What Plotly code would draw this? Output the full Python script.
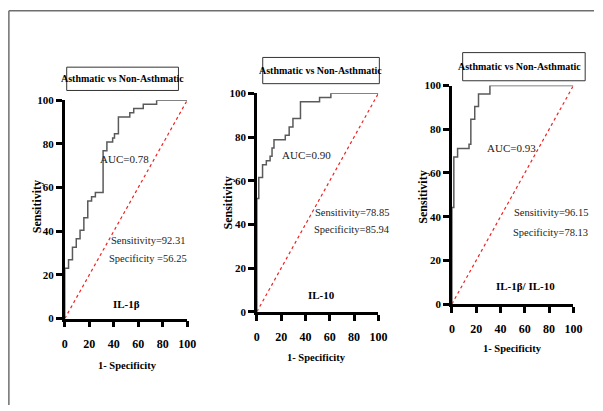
import plotly.graph_objects as go

# ---- data ----
panel_labels = ["IL-1β", "IL-10", "IL-1β/ IL-10"]
auc_texts = ["AUC=0.78", "AUC=0.90", "AUC=0.93"]
sens_texts = ["Sensitivity=92.31", "Sensitivity=78.85", "Sensitivity=96.15"]
spec_texts = ["Specificity =56.25", "Specificity=85.94", "Specificity=78.13"]
title_text = "Asthmatic vs Non-Asthmatic"
tick_vals = [0, 20, 40, 60, 80, 100]
tick_text = ["0", "20", "40", "60", "80", "100"]

il1b_fpr = [0, 0, 3.1, 3.1, 6.3, 6.3, 9.4, 9.4, 12.5, 12.5, 15.6, 15.6, 18.8, 18.8, 21.9, 21.9,
            25.0, 25.0, 31.3, 31.3, 34.4, 34.4, 39.1, 39.1, 40.6, 40.6, 43.8, 43.8, 53.1, 53.1,
            56.3, 56.3, 64.1, 64.1, 75.0, 75.0, 100]
il1b_tpr = [0, 23.1, 23.1, 26.9, 26.9, 32.7, 32.7, 36.5, 36.5, 40.4, 40.4, 46.2, 46.2, 53.8, 53.8, 55.8,
            55.8, 57.7, 57.7, 76.9, 76.9, 80.8, 80.8, 82.7, 82.7, 84.6, 84.6, 92.3, 92.3, 94.2,
            94.2, 96.2, 96.2, 98.1, 98.1, 100, 100]

il10_fpr = [0, 0, 1.6, 1.6, 4.7, 4.7, 7.8, 7.8, 10.9, 10.9, 12.5, 12.5, 14.1, 14.1, 23.4, 23.4,
            26.6, 26.6, 29.7, 29.7, 35.9, 35.9, 51.6, 51.6, 60.9, 60.9, 100]
il10_tpr = [0, 51.9, 51.9, 61.5, 61.5, 67.3, 67.3, 69.2, 69.2, 71.2, 71.2, 75.0, 75.0, 78.8, 78.8, 80.8,
            80.8, 84.6, 84.6, 88.5, 88.5, 96.2, 96.2, 98.1, 98.1, 100, 100]

ratio_fpr = [0, 0, 1.6, 1.6, 4.7, 4.7, 14.1, 14.1, 15.6, 15.6, 18.8, 18.8, 21.9, 21.9, 31.3, 31.3, 100]
ratio_tpr = [0, 44.2, 44.2, 67.3, 67.3, 71.2, 71.2, 73.1, 73.1, 84.6, 84.6, 90.4, 90.4, 96.2, 96.2, 100, 100]

diag = [0, 100]

curves = [(il1b_fpr, il1b_tpr), (il10_fpr, il10_tpr), (ratio_fpr, ratio_tpr)]

# ---- layout geometry (pixels of a 603x411 canvas) ----
W, H = 603, 411
def px(x):
    return x / W
def py(y):
    return 1 - y / H

x_dom = [(63, 188), (259, 383), (458, 582)]
y_dom = [(322, 97), (315, 90), (307, 82)]   # (y of 0, y of 100)
boxes = [(65, 63, 179, 87), (265, 53, 384, 80), (469, 48, 594, 77)]
box_text_xy = [(122, 75), (324, 66.5), (527, 62.5)]
ytitle_xy = [(35, 207), (230, 203), (429, 197)]
xtitle_xy = [(127, 370), (320, 362), (520, 353)]
auc_xy = [(48.4, 73), (41.1, 72), (48.8, 71.6)]
sens_xy = [(67.6, 35.6), (78.6, 45.3), (81.5, 41.8)]
spec_xy = [(67.6, 27.6), (78.6, 37.8), (81.5, 32.9)]
lab_xy = [(50.4, 6.5), (53.2, 7.6), (60.5, 8.4)]

SERIF = "Liberation Serif"

fig = go.Figure()
annotations = []
shapes = []

for i in range(3):
    xa = "x" if i == 0 else f"x{i+1}"
    ya = "y" if i == 0 else f"y{i+1}"
    fx, fy = curves[i]
    fig.add_trace(go.Scatter(x=diag, y=diag, mode="lines", xaxis=xa, yaxis=ya,
                             line=dict(color="#ee2222", width=1.2, dash="dot"),
                             showlegend=False, hoverinfo="skip"))
    fig.add_trace(go.Scatter(x=fx, y=fy, mode="lines", xaxis=xa, yaxis=ya,
                             line=dict(color="#5a5a5a", width=1.5),
                             showlegend=False))
    axis_common = dict(range=[0, 100], showline=True, linecolor="black", linewidth=2.5,
                       ticks="outside", ticklen=6, tickwidth=2.5, tickcolor="black",
                       tickvals=tick_vals, ticktext=tick_text, showgrid=False, zeroline=False,
                       fixedrange=True)
    xkey = "xaxis" if i == 0 else f"xaxis{i+1}"
    ykey = "yaxis" if i == 0 else f"yaxis{i+1}"
    fig.layout[xkey] = dict(axis_common, domain=[px(x_dom[i][0]), px(x_dom[i][1])], anchor=ya,
                            tickfont=dict(family=SERIF, size=12, color="black", weight="bold"),
                            ticklabelstandoff=6)
    fig.layout[ykey] = dict(axis_common, domain=[py(y_dom[i][0]), py(y_dom[i][1])], anchor=xa,
                            tickfont=dict(family=SERIF, size=11, color="black", weight="bold"))

    x0, y0, x1, y1 = boxes[i]
    shapes.append(dict(type="rect", xref="paper", yref="paper", x0=px(x0), x1=px(x1),
                       y0=py(y1), y1=py(y0), line=dict(color="#333333", width=1)))
    bx, by = box_text_xy[i]
    annotations.append(dict(text=title_text, xref="paper", yref="paper", x=px(bx), y=py(by),
                            showarrow=False, xanchor="center", yanchor="middle",
                            font=dict(family=SERIF, size=10, color="black", weight="bold")))
    tx, ty = ytitle_xy[i]
    annotations.append(dict(text="Sensitivity", xref="paper", yref="paper", x=px(tx), y=py(ty),
                            showarrow=False, textangle=-90, xanchor="center", yanchor="middle",
                            font=dict(family=SERIF, size=12, color="black", weight="bold")))
    tx, ty = xtitle_xy[i]
    annotations.append(dict(text="1- Specificity", xref="paper", yref="paper", x=px(tx), y=py(ty),
                            showarrow=False, xanchor="center", yanchor="middle",
                            font=dict(family=SERIF, size=10.5, color="black", weight="bold")))
    ax_, ay_ = auc_xy[i]
    annotations.append(dict(text=auc_texts[i], xref=xa, yref=ya, x=ax_, y=ay_, showarrow=False,
                            xanchor="center", yanchor="middle",
                            font=dict(family=SERIF, size=11, color="#222222")))
    sx, sy = sens_xy[i]
    annotations.append(dict(text=sens_texts[i], xref=xa, yref=ya, x=sx, y=sy, showarrow=False,
                            xanchor="center", yanchor="middle",
                            font=dict(family=SERIF, size=10.5, color="#222222")))
    sx, sy = spec_xy[i]
    annotations.append(dict(text=spec_texts[i], xref=xa, yref=ya, x=sx, y=sy, showarrow=False,
                            xanchor="center", yanchor="middle",
                            font=dict(family=SERIF, size=10.5, color="#222222")))
    lx, ly = lab_xy[i]
    annotations.append(dict(text=panel_labels[i], xref=xa, yref=ya, x=lx, y=ly, showarrow=False,
                            xanchor="center", yanchor="middle",
                            font=dict(family=SERIF, size=11, color="black", weight="bold")))

# outer frame lines (top and left)
shapes.append(dict(type="line", xref="paper", yref="paper", x0=px(6), x1=1, y0=py(5), y1=py(5),
                   line=dict(color="#6e6e6e", width=1.5)))
shapes.append(dict(type="line", xref="paper", yref="paper", x0=px(6), x1=px(6), y0=0, y1=py(5),
                   line=dict(color="#6e6e6e", width=1.5)))

fig.update_layout(width=W, height=H, margin=dict(l=0, r=0, t=0, b=0),
                  paper_bgcolor="white", plot_bgcolor="white",
                  annotations=annotations, shapes=shapes, showlegend=False)

fig.write_html("out.html", config={"displayModeBar": False},
               post_script="document.body.style.margin='0';document.body.style.padding='0';"
                           "document.body.style.overflow='hidden';")
